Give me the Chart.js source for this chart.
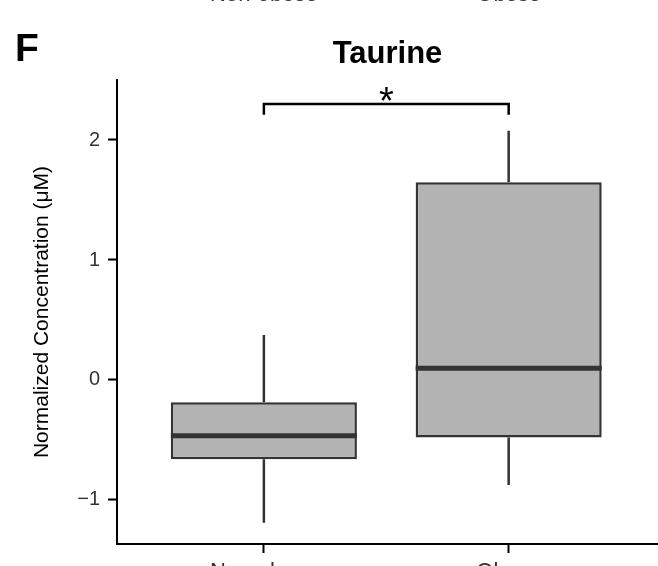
<!DOCTYPE html>
<html>
<head>
<meta charset="utf-8">
<title>Taurine</title>
<script src="https://cdn.jsdelivr.net/npm/chart.js@4/dist/chart.umd.min.js"></script>
<style>
  html, body { margin: 0; padding: 0; background: #fff; }
  #wrap { width: 658px; height: 566px; }
</style>
</head>
<body>
<div id="wrap"><canvas id="taurineChart"></canvas></div>
<script>
const FONT = "'Liberation Sans', Arial, Helvetica, sans-serif"

// Box plot summary per group (normalized concentration)
const groups = ['Non-obese', 'Obese']
const groupX = [1, 2]
const whiskerLow = [-1.19, -0.875]
const q1 = [-0.66, -0.48]
const median = [-0.465, 0.097]
const q3 = [-0.185, 1.647]
const whiskerHigh = [0.375, 2.078]

// y axis ticks
const yTicks = [-1, 0, 1, 2]
const yTickLabels = ['\u22121', '0', '1', '2']

// significance bracket between the two groups
const bracketPair = [1, 2]
const bracketTop = 2.3
const bracketEnd = 2.21
const bracketLabel = '*'

const chartTitle = 'Taurine'
const panelLetter = 'F'

const LINE = '#333333'
const TICK_TEXT = '#333333'

// whiskers under the boxes, medians on top
const boxParts = {
  id: 'boxParts',
  beforeDatasetsDraw(chart) {
    const { ctx, scales: { y } } = chart
    const bars = chart.getDatasetMeta(0).data
    ctx.save()
    ctx.strokeStyle = LINE
    ctx.lineWidth = 2.5
    bars.forEach((bar, i) => {
      ctx.beginPath()
      ctx.moveTo(bar.x, y.getPixelForValue(q3[i]))
      ctx.lineTo(bar.x, y.getPixelForValue(whiskerHigh[i]))
      ctx.moveTo(bar.x, y.getPixelForValue(q1[i]))
      ctx.lineTo(bar.x, y.getPixelForValue(whiskerLow[i]))
      ctx.stroke()
    })
    ctx.restore()
  },
  afterDatasetsDraw(chart) {
    const { ctx, scales: { y } } = chart
    const bars = chart.getDatasetMeta(0).data
    ctx.save()
    ctx.strokeStyle = LINE
    ctx.lineWidth = 5
    bars.forEach((bar, i) => {
      const ym = y.getPixelForValue(median[i])
      ctx.beginPath()
      ctx.moveTo(bar.x - bar.width / 2, ym)
      ctx.lineTo(bar.x + bar.width / 2, ym)
      ctx.stroke()
    })
    ctx.restore()
  }
}

// title, panel letter, bracket and the cut-off labels of the panel above
const panelText = {
  id: 'panelText',
  afterDraw(chart) {
    const { ctx, chartArea, scales: { x, y } } = chart
    ctx.save()
    ctx.textBaseline = 'alphabetic'

    ctx.fillStyle = TICK_TEXT
    ctx.font = `22px ${FONT}`
    ctx.textAlign = 'center'
    groups.forEach((g, i) => ctx.fillText(g, x.getPixelForValue(groupX[i]), 1))

    ctx.fillStyle = '#000'
    ctx.font = `bold 39px ${FONT}`
    ctx.textAlign = 'left'
    ctx.fillText(panelLetter, 15, 61)

    ctx.font = `bold 31px ${FONT}`
    ctx.textAlign = 'center'
    ctx.fillText(chartTitle, (chartArea.left + chartArea.right) / 2, 63)

    const x1 = x.getPixelForValue(bracketPair[0])
    const x2 = x.getPixelForValue(bracketPair[1])
    const yTop = y.getPixelForValue(bracketTop)
    const yEnd = y.getPixelForValue(bracketEnd)
    ctx.strokeStyle = '#000'
    ctx.lineWidth = 2.5
    ctx.beginPath()
    ctx.moveTo(x1, yEnd)
    ctx.lineTo(x1, yTop)
    ctx.lineTo(x2, yTop)
    ctx.lineTo(x2, yEnd)
    ctx.stroke()

    ctx.font = `38px ${FONT}`
    ctx.fillText(bracketLabel, (x1 + x2) / 2, yTop + 10)
    ctx.restore()
  }
}

const ctx = document.getElementById('taurineChart').getContext('2d')

const taurineChart = new Chart(ctx, {
  type: 'bar',
  data: {
    datasets: [{
      data: groupX.map((gx, i) => ({ x: gx, y: [q1[i], q3[i]] })),
      backgroundColor: '#b3b3b3',
      borderColor: LINE,
      borderWidth: 2.5,
      borderSkipped: false,
      barPercentage: 0.76,
      categoryPercentage: 1
    }]
  },
  options: {
    responsive: true,
    maintainAspectRatio: false,
    animation: false,
    layout: { padding: { top: 80, left: 0, right: 0, bottom: 0 } },
    plugins: {
      legend: { display: false },
      tooltip: { enabled: false }
    },
    scales: {
      x: {
        type: 'linear',
        min: 0.4,
        max: 2.61,
        offset: false,
        afterBuildTicks: scale => { scale.ticks = groupX.map(v => ({ value: v })) },
        afterFit: scale => { scale.height = 22 },
        grid: {
          display: true,
          offset: false,
          drawOnChartArea: false,
          drawTicks: true,
          tickLength: 9,
          tickWidth: 2,
          tickColor: '#000'
        },
        border: { display: true, color: '#000', width: 2 },
        ticks: {
          autoSkip: false,
          maxRotation: 0,
          padding: 6,
          color: TICK_TEXT,
          font: { family: FONT, size: 22 },
          callback: v => groups[groupX.indexOf(v)]
        }
      },
      y: {
        min: -1.367,
        max: 2.5,
        afterBuildTicks: scale => { scale.ticks = yTicks.map(v => ({ value: v })) },
        afterFit: scale => { scale.width = 117 },
        grid: {
          display: true,
          drawOnChartArea: false,
          drawTicks: true,
          tickLength: 9,
          tickWidth: 2,
          tickColor: '#000'
        },
        border: { display: true, color: '#000', width: 2 },
        ticks: {
          padding: 8,
          color: TICK_TEXT,
          font: { family: FONT, size: 20 },
          callback: v => yTickLabels[yTicks.indexOf(v)]
        },
        title: {
          display: true,
          text: 'Normalized Concentration (\u03bcM)',
          color: '#000',
          font: { family: FONT, size: 21 },
          padding: { top: 30, bottom: 0 }
        }
      }
    }
  },
  plugins: [boxParts, panelText]
})
</script>
</body>
</html>
